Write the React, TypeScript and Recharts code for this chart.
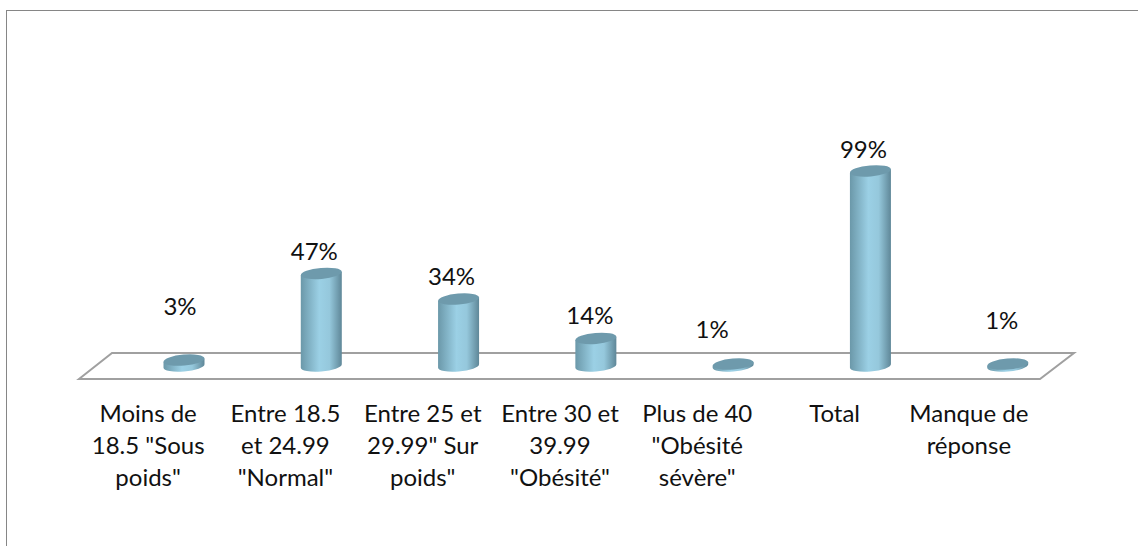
import { BarChart, Bar, XAxis, YAxis, LabelList } from 'recharts';

const categories = [
  'Moins de|18.5 "Sous|poids"',
  'Entre 18.5|et 24.99|"Normal"',
  'Entre 25 et|29.99" Sur|poids"',
  'Entre 30 et|39.99|"Obésité"',
  'Plus de 40|"Obésité|sévère"',
  'Total',
  'Manque de|réponse',
];
const percentages = [3, 47, 34, 14, 1, 99, 1];

// the value labels were placed by hand in the original, so each has its own nudge
const labelNudgeX = [-4, -7, -7, -6, -21, -7, -6];
const labelNudgeY = [-45, -13, -14, -14, -26, -13, -35];

const chartData = categories.map((name, i) => ({ name, value: percentages[i] }));

const FONT = 'Lato, "Open Sans", sans-serif';
const FONT_SIZE = 24;
const DEPTH_SHIFT = 36;
const TILT = 1.7;
const RY = 5.5;

function Cylinder(props: any) {
  const { x, y, width, height } = props;
  const r = width / 2;
  const cx = x + r;
  const bottom = y + height;
  const body = `M${x} ${y + TILT} L${x} ${bottom + TILT} A${r} ${RY} -5 0 0 ${x + width} ${bottom - TILT} L${x + width} ${y - TILT} Z`;
  return (
    <g>
      <path d={body} fill="url(#cylinderBody)" />
      <ellipse cx={cx} cy={y} rx={r} ry={RY} fill="#6e9aac" transform={`rotate(-5 ${cx} ${y})`} />
    </g>
  );
}

function CategoryTick(props: any) {
  const { x, y, payload, index } = props;
  const lines = String(payload.value).split('|');
  // last label sits a little left of its slot in the original
  const tx = x - DEPTH_SHIFT - (index === categories.length - 1 ? 3 : 0);
  return (
    <text x={tx} y={y} textAnchor="middle" fontFamily={FONT} fontSize={FONT_SIZE} fill="#111">
      {lines.map((line, i) => (
        <tspan key={i} x={tx} dy={i === 0 ? 48 : 32}>
          {line}
        </tspan>
      ))}
    </text>
  );
}

function ValueLabel(props: any) {
  const { x, y, width, value, index } = props;
  return (
    <text
      x={x + width / 2 + labelNudgeX[index]}
      y={y + labelNudgeY[index]}
      textAnchor="middle"
      fontFamily={FONT}
      fontSize={FONT_SIZE}
      fill="#111"
    >
      {value}%
    </text>
  );
}

export default function App() {
  return (
    <div style={{ position: 'absolute', left: 0, top: 0, width: 1138, height: 546, background: '#fff', overflow: 'hidden' }}>
      <div
        style={{
          position: 'absolute',
          left: 6,
          top: 10,
          right: -4,
          bottom: -4,
          borderLeft: '1.5px solid #868686',
          borderTop: '1.5px solid #868686',
        }}
      />
      <div style={{ position: 'absolute', left: 0, top: 0 }}>
        <BarChart
          width={1138}
          height={546}
          data={chartData}
          margin={{ top: 169, right: 61.5, bottom: 60, left: 115.5 }}
        >
          <defs>
            <linearGradient id="cylinderBody" x1="0" y1="0" x2="1" y2="0">
              <stop offset="0%" stopColor="#6b98a9" />
              <stop offset="45%" stopColor="#9bd0e5" />
              <stop offset="70%" stopColor="#95c8dc" />
              <stop offset="100%" stopColor="#5f8798" />
            </linearGradient>
          </defs>
          <polygon points="79,379 112,353 1074,353 1040,379" fill="none" stroke="#a0a0a0" strokeWidth={2} />
          <XAxis dataKey="name" axisLine={false} tickLine={false} height={120} interval={0} tick={<CategoryTick />} />
          <YAxis hide domain={[0, 100]} />
          <Bar dataKey="value" barSize={41} shape={<Cylinder />} isAnimationActive={false}>
            <LabelList dataKey="value" content={<ValueLabel />} />
          </Bar>
        </BarChart>
      </div>
    </div>
  );
}
